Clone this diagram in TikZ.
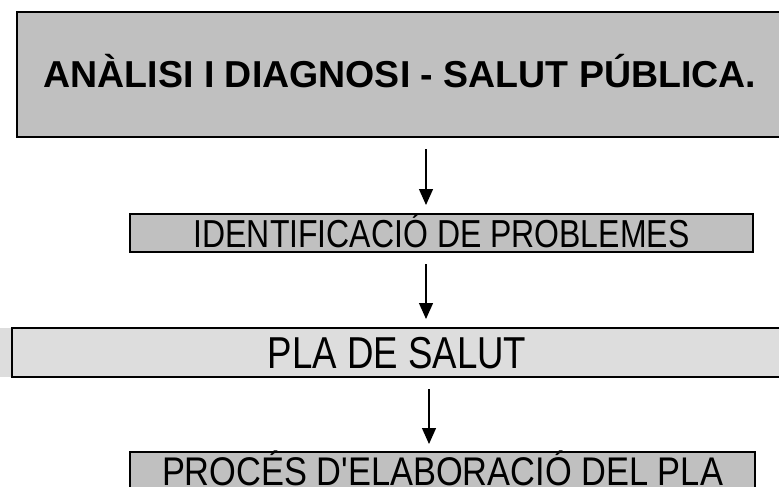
\documentclass[tikz,border=0pt]{standalone}
\usepackage{fontspec}
\setmainfont{Liberation Sans}
\newfontfamily\narrowfont[FakeStretch=0.82]{Liberation Sans}
\newfontfamily\lownarrowfont[FakeStretch=0.86]{Liberation Sans}
\usetikzlibrary{arrows.meta,positioning}
\definecolor{boxgray}{HTML}{C0C0C0}
\definecolor{plagray}{HTML}{DDDDDD}
\tikzset{
    box/.style =    {rectangle,
                    fill=boxgray,
                    draw=black,
                    text=black,
                    line width=2pt,
                    inner sep=0pt,
                    text depth=0pt},
    title/.style =  {box,
                    font=\fontsize{37.5}{40}\selectfont\bfseries,
                    text height=27pt},
    step1/.style =  {box,
                    font=\narrowfont\fontsize{39}{42}\selectfont,
                    text height=28pt},
    plan/.style =   {box,
                    fill=plagray,
                    font=\narrowfont\fontsize{44.7}{48}\selectfont,
                    text height=32pt},
    step2/.style =  {rectangle,
                    text=black,
                    inner sep=0pt,
                    text depth=0pt,
                    font=\lownarrowfont\fontsize{40}{43}\selectfont,
                    text height=28pt},
    -,
    >={Triangle[width=14pt,length=16pt]},
    flow/.style =   {->,
                    line width=1.3pt,
                    shorten <=11pt,
                    shorten >=8pt}}

\begin{document}
\begin{tikzpicture}[x=1pt,y=-1pt]
            \useasboundingbox (0,0) rectangle (779,487);
            \clip (0,0) rectangle (779,487);
            \fill[plagray] (0,328) rectangle (12,377);

            % last box runs off the bottom edge
            \filldraw[fill=boxgray, draw=black, line width=2pt] (130,452) rectangle (755,495);
            \coordinate (procestop) at (442.5,452);

            \node[title, minimum width=766pt, minimum height=125pt] (analisi)   at (400,74.5)   {ANÀLISI I DIAGNOSI - SALUT PÚBLICA.};
            \node[step1, minimum width=623pt, minimum height=38pt]  (problemes) at (441.5,233)  {IDENTIFICACIÓ DE PROBLEMES};
            \node[plan,  minimum width=770pt, minimum height=49pt]  (pla)       at (397,352.5)  {PLA DE SALUT};
            \node[step2]                                            (proces)    at (442.5,471)  {PROCÉS D'ELABORACIÓ DEL PLA};

            \coordinate (c1) at (426,0);
            \coordinate (c2) at (429,0);

            \draw [flow]  (analisi.south -| c1)   -- (problemes.north -| c1);
            \draw [flow]  (problemes.south -| c1) -- (pla.north -| c1);
            \draw [flow]  (pla.south -| c2)       -- (procestop -| c2);
        \end{tikzpicture}
\end{document}
